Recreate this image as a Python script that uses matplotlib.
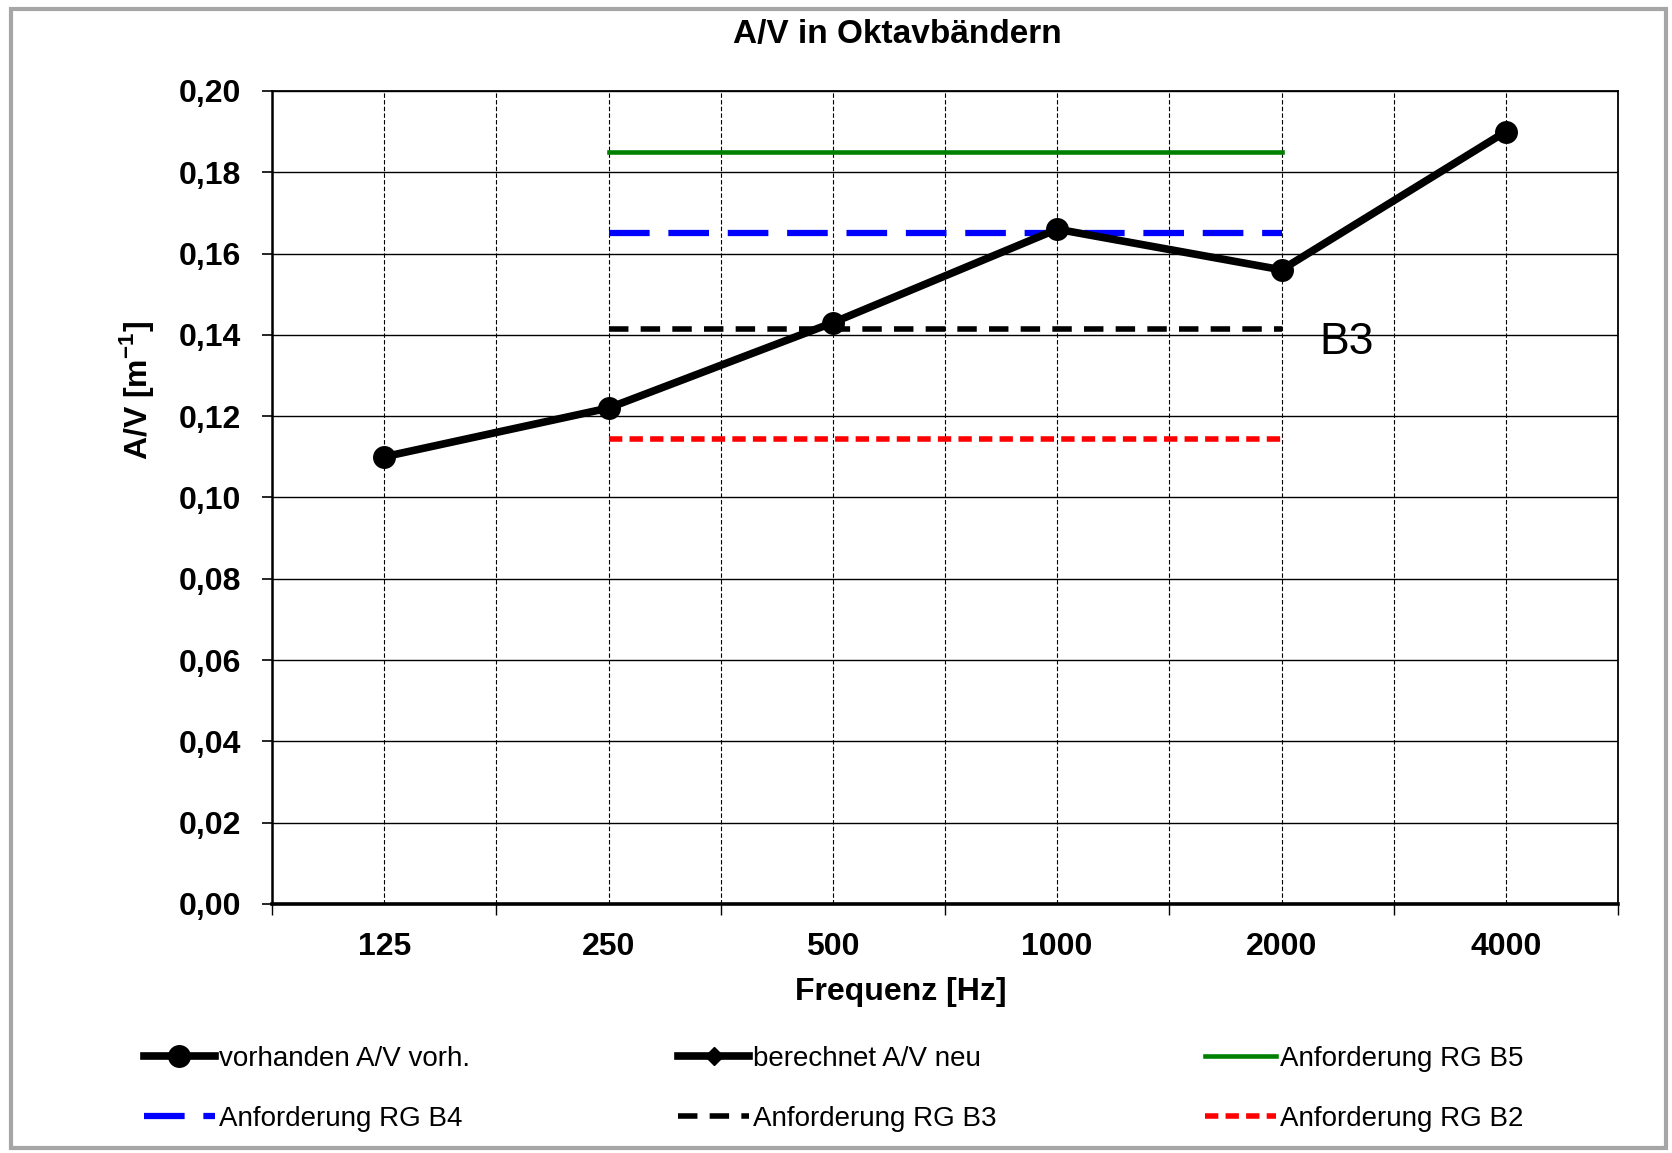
# -*- coding: utf-8 -*-

import numpy as np
import matplotlib
matplotlib.use('Agg')
import matplotlib.pyplot as plt
from matplotlib.patches import Rectangle
from matplotlib.ticker import FuncFormatter

# Daten
frequenzen = ['125', '250', '500', '1000', '2000', '4000']
av_vorhanden = [0.110, 0.122, 0.143, 0.166, 0.156, 0.190]
av_neu = []  # keine Werte im Diagramm

# Anforderungen gelten von 250 bis 2000 Hz
anf_frequenzen = ['250', '2000']
anf_b5 = [0.185, 0.185]
anf_b4 = [0.165, 0.165]
anf_b3 = [0.1415, 0.1415]
anf_b2 = [0.1145, 0.1145]

plt.rcParams['font.family'] = ['Liberation Sans', 'DejaVu Sans']
plt.rcParams['mathtext.fontset'] = 'custom'
plt.rcParams['mathtext.rm'] = 'Liberation Sans'
plt.rcParams['mathtext.bf'] = 'Liberation Sans:bold'

fig = plt.figure(figsize=(16.72, 11.53), dpi=100)
ax = fig.add_axes([0.1627, 0.2160, 0.805, 0.7051])

x = np.arange(len(frequenzen))
x_anf = [frequenzen.index(f) for f in anf_frequenzen]

l_vorh, = ax.plot(x, av_vorhanden, color='black', lw=5.5, marker='o', ms=15.5,
                  label='vorhanden A/V vorh.', zorder=6)
l_neu, = ax.plot(av_neu, av_neu, color='black', lw=5.5, marker='D', ms=9,
                 label='berechnet A/V neu')
l_b5, = ax.plot(x_anf, anf_b5, color='#008000', lw=3.3, label='Anforderung RG B5', zorder=4)
l_b4, = ax.plot(x_anf, anf_b4, color='#0000ff', lw=4.5, dashes=(6.5, 3.0),
                label='Anforderung RG B4', zorder=4)
l_b3, = ax.plot(x_anf, anf_b3, color='black', lw=4.0, dashes=(3.5, 2.2),
                label='Anforderung RG B3', zorder=4)
l_b2, = ax.plot(x_anf, anf_b2, color='#ff0000', lw=4.0, dashes=(2.4, 1.3),
                label='Anforderung RG B2', zorder=4)

ax.text(4.17, 0.138, 'B3', fontsize=32, ha='left', va='center')

# Achsen
ax.set_xlim(-0.5, len(frequenzen) - 0.5)
ax.set_ylim(0, 0.20)
ax.set_yticks(np.arange(0, 0.201, 0.02))
ax.yaxis.set_major_formatter(FuncFormatter(lambda v, p: ('%.2f' % v).replace('.', ',')))
ax.set_xticks(np.arange(-0.5, len(frequenzen), 1.0))
ax.set_xticklabels([])
ax.set_xticks(x, minor=True)
ax.set_xticklabels(frequenzen, minor=True)

ax.tick_params(axis='y', which='major', direction='out', length=7, width=1.2,
               labelsize=23, pad=15)
ax.tick_params(axis='x', which='major', direction='out', length=8, width=1.0)
ax.tick_params(axis='x', which='minor', length=0, labelsize=23, pad=20)
for lab in ax.get_yticklabels() + ax.get_xticklabels(minor=True):
    lab.set_fontweight('bold')

ax.grid(axis='y', which='major', color='black', lw=1.0, ls='-')
ax.grid(axis='x', which='both', color='black', lw=0.8, ls=(0, (4, 2)))
ax.set_axisbelow(True)

ax.spines['left'].set_linewidth(1.8)
ax.spines['bottom'].set_linewidth(2.6)
ax.spines['top'].set_linewidth(1.3)
ax.spines['right'].set_linewidth(1.3)

# Beschriftungen
fig.text(0.537, 0.970, 'A/V in Oktavbändern', ha='center', va='center',
         fontsize=24, fontweight='bold')
fig.text(0.539, 0.140, 'Frequenz [Hz]', ha='center', va='center',
         fontsize=23, fontweight='bold')
fig.text(0.0816, 0.661, r'A/V [m$^{\mathbf{-1}}$]', ha='center', va='center',
         rotation=90, fontsize=23, fontweight='bold')

# Legende (zeilenweise wie im Original)
handles = [l_vorh, l_b4, l_neu, l_b3, l_b5, l_b2]
fig.legend(handles=handles, labels=[h.get_label() for h in handles], ncol=3,
           loc='upper left', bbox_to_anchor=(0.086, 0.093), frameon=False,
           fontsize=20, handlelength=2.55, handletextpad=0.15,
           columnspacing=7.5, labelspacing=1.23, borderpad=0, borderaxespad=0)

# grauer Rahmen
fig.patches.append(Rectangle((0.0066, 0.0043), 0.9898, 0.9883, transform=fig.transFigure,
                             fill=False, edgecolor='#a6a6a6', lw=3))

fig.savefig('out.png', dpi=100)
